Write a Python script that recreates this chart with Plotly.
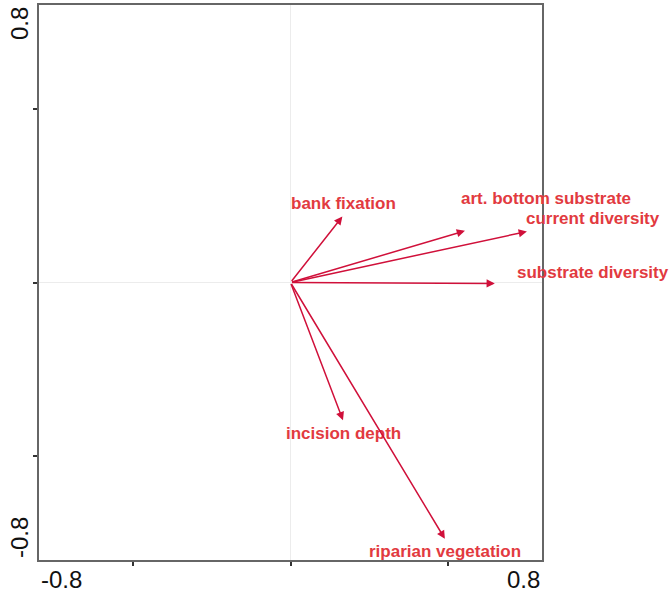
import plotly.graph_objects as go

# Environmental variable vectors (ordination biplot, axes 1 and 2)
variables = ["bank fixation", "art. bottom substrate", "current diversity",
             "substrate diversity", "incision depth", "riparian vegetation"]
axis1 = [0.165, 0.555, 0.752, 0.650, 0.167, 0.491]
axis2 = [0.190, 0.149, 0.147, -0.003, -0.397, -0.739]

# Label placement (text centres in axis units)
label_x = [0.170, 0.812, 0.962, 0.962, 0.170, 0.491]
label_y = [0.227, 0.241, 0.184, 0.029, -0.434, -0.776]

axis_range = [-0.8, 0.8]
tick_vals = [-0.5, 0, 0.5]

arrow_color = "#d0103a"
text_color = "#e23a40"
label_font = dict(family="Liberation Sans, Arial, sans-serif", size=17, color=text_color)
tick_font = dict(family="Liberation Sans Narrow, Arial Narrow, Liberation Sans, sans-serif",
                 size=24, color="#111111")


def to_paper(v):
    return (v - axis_range[0]) / (axis_range[1] - axis_range[0])


fig = go.Figure()
fig.add_trace(go.Scatter(x=[0], y=[0], mode="markers",
                         marker=dict(size=1, color="rgba(0,0,0,0)"),
                         hoverinfo="skip", showlegend=False))

annotations = []
for name, x, y, lx, ly in zip(variables, axis1, axis2, label_x, label_y):
    annotations.append(dict(
        x=x, y=y, ax=0, ay=0, xref="x", yref="y", axref="x", ayref="y",
        showarrow=True, arrowhead=2, arrowsize=1.1, arrowwidth=1.5,
        arrowcolor=arrow_color, text=""))
    # labels may sit beyond the axis range, so place them in paper units
    annotations.append(dict(
        x=to_paper(lx), y=to_paper(ly), xref="paper", yref="paper",
        text="<b>%s</b>" % name, showarrow=False, font=label_font,
        xanchor="center", yanchor="middle"))

# Axis extent labels
annotations += [
    dict(x=0, y=0, xref="paper", yref="paper", text="-0.8", showarrow=False,
         xanchor="left", yanchor="top", yshift=-4, font=tick_font),
    dict(x=1, y=0, xref="paper", yref="paper", text="0.8", showarrow=False,
         xanchor="right", yanchor="top", yshift=-4, font=tick_font),
    dict(x=0, y=1, xref="paper", yref="paper", text="0.8", showarrow=False,
         xanchor="right", yanchor="top", xshift=-4, textangle=-90, font=tick_font),
    dict(x=0, y=0, xref="paper", yref="paper", text="-0.8", showarrow=False,
         xanchor="right", yanchor="bottom", xshift=-4, textangle=-90, font=tick_font),
]

axis_common = dict(
    range=axis_range, tickvals=tick_vals, showticklabels=False,
    ticks="outside", ticklen=4, tickwidth=1.5, tickcolor="#333333",
    showgrid=False, zeroline=True, zerolinecolor="#ececec", zerolinewidth=1,
    showline=True, linecolor="#666666", linewidth=1.6, mirror=True,
)

fig.update_layout(
    width=672, height=598,
    margin=dict(l=39, r=130, t=3, b=38),
    paper_bgcolor="white", plot_bgcolor="white",
    xaxis=axis_common, yaxis=axis_common,
    annotations=annotations, showlegend=False,
)

fig.write_html("out.html")
